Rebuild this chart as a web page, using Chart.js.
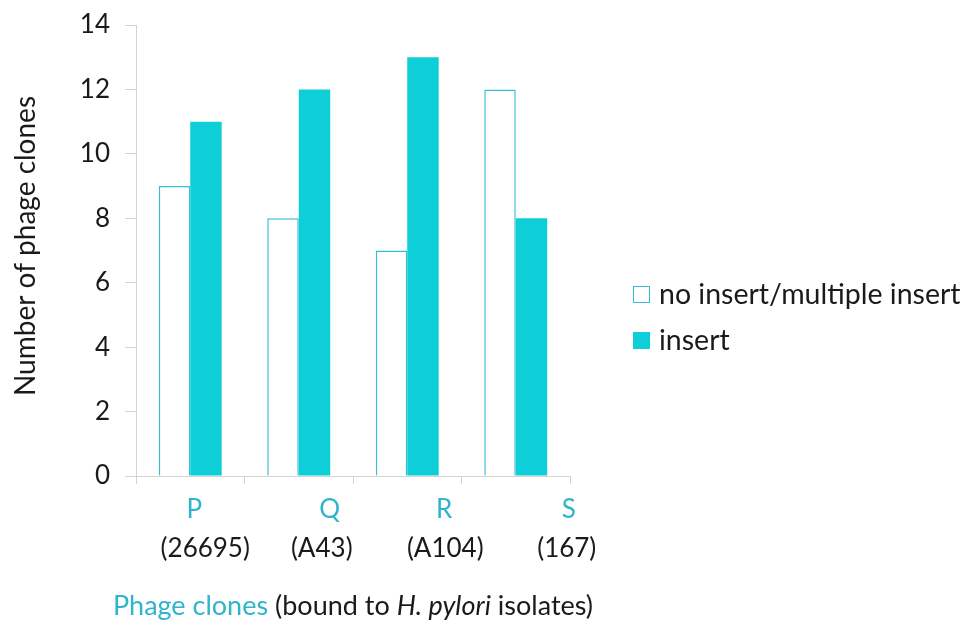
<!DOCTYPE html>
<html lang="en">
<head>
<meta charset="UTF-8">
<title>Phage clones</title>
<script src="https://cdn.jsdelivr.net/npm/chart.js"></script>
<style>
  html, body { margin: 0; padding: 0; background: #fff; }
  canvas { display: block; }
</style>
</head>
<body>
<canvas id="chart" width="972" height="626"></canvas>
<script>
const clones = ['P', 'Q', 'R', 'S'];
const isolates = ['(26695)', '(A43)', '(A104)', '(167)'];
const noInsert = [9, 8, 7, 12];
const insert = [11, 12, 13, 8];
const seriesNames = ['no insert/multiple insert', 'insert'];

const FONT = 'Lato, "Open Sans", sans-serif';
const CYAN = '#0ecfd8';
const EDGE = '#38bcd6';
const LABEL_CYAN = '#2fb4cc';
const INK = '#1a1a1a';
const AXIS = '#d4d4d4';

// names under the axis are not centred on the pairs in the figure, nudge them right
const nameShift = [4, 31, 37, 53];
const isolateShift = [15, 23, 38, 51];

const decor = {
    id: 'decor',
    afterDraw(chart) {
        const ctx = chart.ctx;
        const x = chart.scales.x;
        const area = chart.chartArea;
        ctx.save();
        ctx.textAlign = 'center';
        ctx.textBaseline = 'alphabetic';
        ctx.font = '26px ' + FONT;
        clones.forEach((c, i) => {
            const px = x.getPixelForValue(i);
            ctx.fillStyle = LABEL_CYAN;
            ctx.fillText(c, px + nameShift[i], area.bottom + 42);
            ctx.fillStyle = INK;
            ctx.fillText(isolates[i], px + isolateShift[i], area.bottom + 81);
        });

        // x title, part cyan, part italic
        const parts = [
            ['Phage clones', LABEL_CYAN, ''],
            [' (bound to ', INK, ''],
            ['H. pylori', INK, 'italic '],
            [' isolates)', INK, '']
        ];
        ctx.textAlign = 'left';
        let total = 0;
        parts.forEach(p => {
            ctx.font = p[2] + '27px ' + FONT;
            total += ctx.measureText(p[0]).width;
        });
        let cx = (area.left + area.right) / 2 - total / 2;
        parts.forEach(p => {
            ctx.font = p[2] + '27px ' + FONT;
            ctx.fillStyle = p[1];
            ctx.fillText(p[0], cx, area.bottom + 139);
            cx += ctx.measureText(p[0]).width;
        });

        // y title
        ctx.save();
        ctx.translate(26, 246);
        ctx.rotate(-Math.PI / 2);
        ctx.textAlign = 'center';
        ctx.textBaseline = 'middle';
        ctx.font = '28px ' + FONT;
        ctx.fillStyle = INK;
        ctx.fillText('Number of phage clones', 0, 0);
        ctx.restore();

        // legend
        ctx.font = '28.5px ' + FONT;
        ctx.textBaseline = 'middle';
        chart.data.datasets.forEach((ds, i) => {
            const cy = 294 + i * 46;
            ctx.fillStyle = ds.backgroundColor;
            ctx.fillRect(633, cy - 8, 17, 17);
            ctx.strokeStyle = ds.borderColor;
            ctx.lineWidth = 1;
            ctx.strokeRect(633.5, cy - 7.5, 16, 16);
            ctx.fillStyle = INK;
            ctx.fillText(ds.label, 659, cy + 1);
        });
        ctx.restore();
    }
};

new Chart(document.getElementById('chart'), {
    type: 'bar',
    data: {
        labels: clones,
        datasets: [
            {
                label: seriesNames[0],
                data: noInsert,
                backgroundColor: '#ffffff',
                borderColor: EDGE,
                borderWidth: 1.5
            },
            {
                label: seriesNames[1],
                data: insert,
                backgroundColor: CYAN,
                borderColor: CYAN,
                borderWidth: 0
            }
        ]
    },
    options: {
        responsive: false,
        animation: false,
        layout: { padding: { left: 0, top: 0, right: 402, bottom: 0 } },
        datasets: { bar: { categoryPercentage: 0.58, barPercentage: 1 } },
        plugins: { legend: { display: false }, tooltip: { enabled: false } },
        scales: {
            x: {
                afterFit(scale) { scale.height = 150; },
                ticks: { display: false },
                grid: { drawOnChartArea: false, tickLength: 8, color: AXIS },
                border: { color: AXIS }
            },
            y: {
                min: 0,
                max: 14,
                afterFit(scale) {
                    scale.width = 136;
                    scale.paddingTop = 25;
                    scale.paddingBottom = 0;
                },
                ticks: { stepSize: 2, padding: 15, color: INK, font: { family: FONT, size: 26 } },
                grid: { drawOnChartArea: false, tickLength: 11, color: AXIS },
                border: { color: AXIS }
            }
        }
    },
    plugins: [decor]
});
</script>
</body>
</html>
